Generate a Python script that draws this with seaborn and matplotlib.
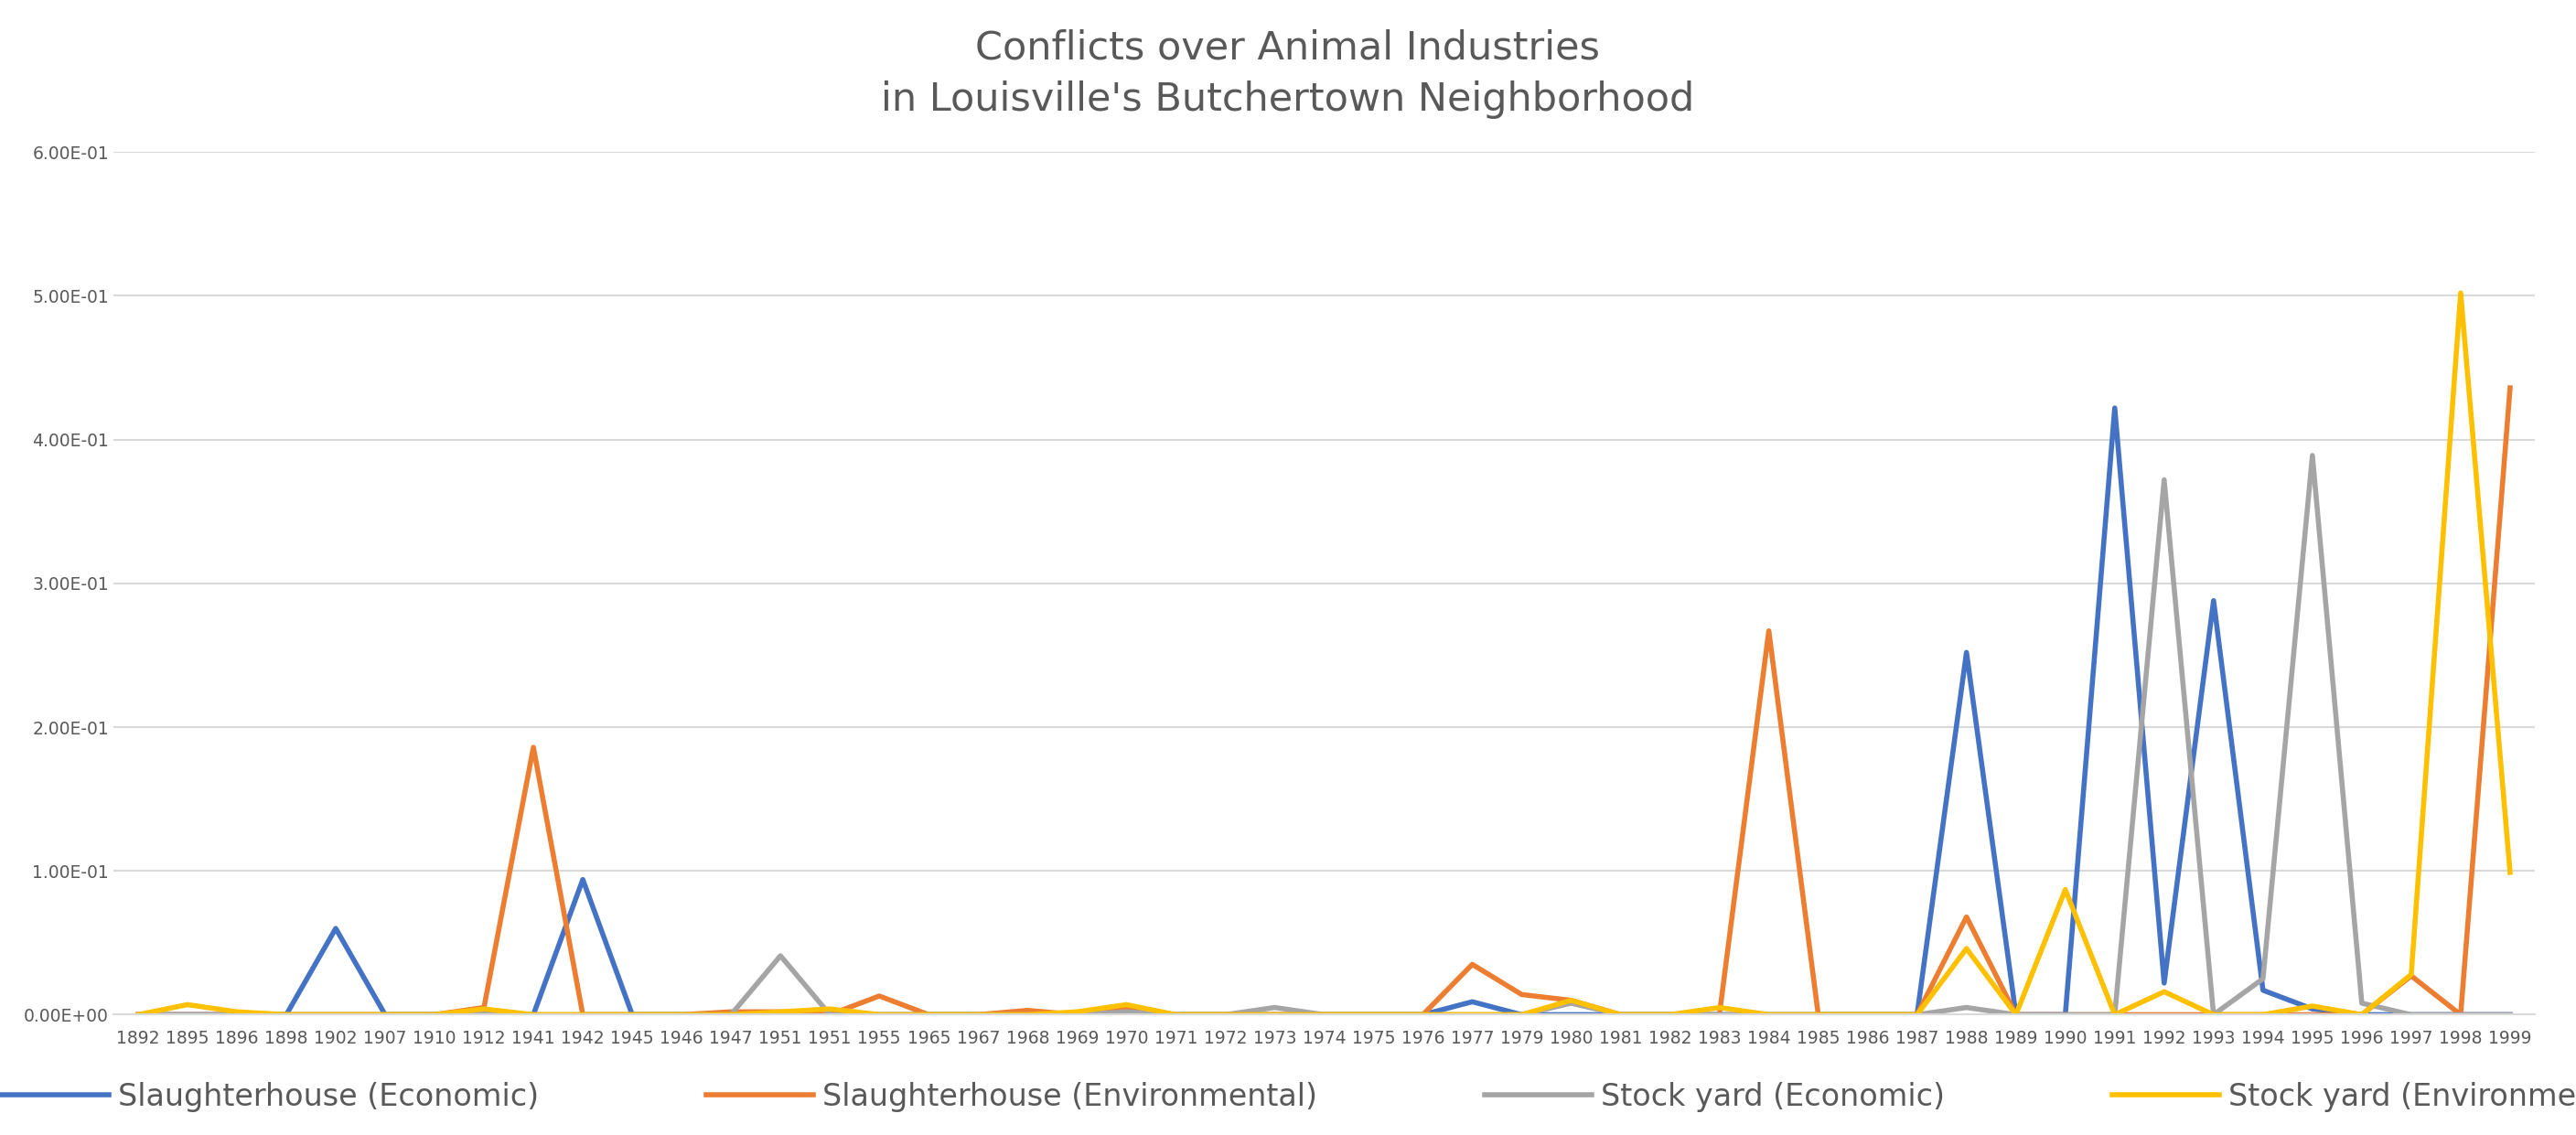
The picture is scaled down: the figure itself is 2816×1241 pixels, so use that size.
import matplotlib
matplotlib.use("Agg")
import matplotlib.pyplot as plt
import seaborn as sns
import pandas as pd
import numpy as np
from matplotlib.ticker import FuncFormatter

years = ["1892","1895","1896","1898","1902","1907","1910","1912","1941","1942","1945","1946","1947","1951","1951",
         "1955","1965","1967","1968","1969","1970","1971","1972","1973","1974","1975","1976","1977","1979","1980",
         "1981","1982","1983","1984","1985","1986","1987","1988","1989","1990","1991","1992","1993","1994","1995",
         "1996","1997","1998","1999"]
n = len(years)

def series(d):
    v = [0.0]*n
    for i, val in d.items():
        v[i] = val
    return v

# index -> value
slaughter_econ = series({4:0.060, 9:0.094, 27:0.009, 37:0.252, 40:0.422, 41:0.022, 42:0.288, 43:0.017, 44:0.004})
slaughter_env = series({7:0.005, 8:0.186, 12:0.002, 13:0.002, 15:0.013, 18:0.003, 20:0.004, 27:0.035, 28:0.014,
                        29:0.010, 33:0.267, 37:0.068, 46:0.027, 48:0.436})
stock_econ = series({7:0.002, 13:0.041, 20:0.002, 23:0.005, 29:0.008, 37:0.005, 41:0.372, 43:0.025, 44:0.389, 45:0.008})
stock_env = series({1:0.007, 2:0.002, 7:0.004, 13:0.002, 14:0.004, 19:0.002, 20:0.007, 29:0.010, 32:0.005,
                    37:0.046, 39:0.087, 41:0.016, 44:0.006, 46:0.028, 47:0.502, 48:0.099})

names = ["Slaughterhouse (Economic)", "Slaughterhouse (Environmental)", "Stock yard (Economic)", "Stock yard (Environmental)"]
colors = ["#4472C4", "#ED7D31", "#A5A5A5", "#FFC000"]
rows = []
for name, vals in zip(names, [slaughter_econ, slaughter_env, stock_econ, stock_env]):
    for i, v in enumerate(vals):
        rows.append({"idx": i, "value": v, "series": name})
df = pd.DataFrame(rows)

fig = plt.figure(figsize=(28.16, 12.41), dpi=100)
ax = fig.add_axes([0.044, 0.106, 0.940, 0.760])
sns.lineplot(data=df, x="idx", y="value", hue="series", palette=colors, ax=ax, linewidth=4, legend=True)
ax.set_xlim(-0.5, n-0.5)
ax.set_ylim(0, 0.6)
ax.set_yticks(np.arange(0, 0.61, 0.1))
ax.yaxis.set_major_formatter(FuncFormatter(lambda v, p: f"{v:.2E}"))
ax.set_xticks(range(n))
ax.set_xticklabels(years)
ax.tick_params(axis="both", length=0, labelsize=13.5, colors="#595959")
ax.tick_params(axis="x", pad=12)
ax.grid(axis="y", color="#D9D9D9", linewidth=1.5)
ax.set_axisbelow(True)
for s in ["top", "right", "left"]:
    ax.spines[s].set_visible(False)
ax.spines["bottom"].set_color("#D9D9D9")
ax.spines["bottom"].set_linewidth(1.5)
ax.set_xlabel("")
ax.set_ylabel("")
fig.suptitle("Conflicts over Animal Industries\nin Louisville's Butchertown Neighborhood", y=0.975,
             fontsize=31, color="#595959", linespacing=1.45)
h, l = ax.get_legend_handles_labels()
ax.legend(h, l, loc="center", bbox_to_anchor=(0.5, -0.095), ncol=4, frameon=False,
          fontsize=24, labelcolor="#595959", handlelength=3.5, handletextpad=0.3, columnspacing=5.5)
fig.savefig("out.png", dpi=100, facecolor="white")
